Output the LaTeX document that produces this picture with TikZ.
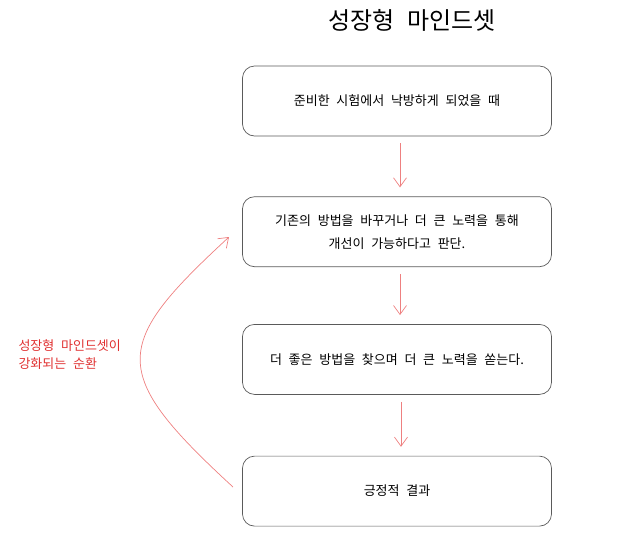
\documentclass[tikz,border=0pt]{standalone}
\usepackage{fontspec}
\setmainfont[WordSpace=2.3]{Noto Sans CJK KR}
\usepackage{tikz}
\usetikzlibrary{positioning, arrows.meta}
\definecolor{edge}{HTML}{5A5A5A}
\definecolor{flow}{HTML}{EE8080}
\definecolor{note}{HTML}{E03131}

\begin{document}
\begin{tikzpicture}[
  x=1pt, y=-1pt,
  every node/.style={font=\fontsize{13}{23}\selectfont},
  stage/.style={
    draw=edge, line width=0.7pt, rounded corners=12pt,
    minimum width=309pt, minimum height=70pt, align=center
  },
  arrow/.style={-{Straight Barb[length=9pt, width=13pt]}, flow, line width=0.7pt,
    shorten <=7pt, shorten >=9pt}
]
  \useasboundingbox (0,0) rectangle (619,542);
  \node[font=\fontsize{24}{26}\selectfont] (title) at (412,20) {성장형 마인드셋};

  \node[stage] (s1) at (397,101) {준비한 시험에서 낙방하게 되었을 때};
  \node[stage, below=60pt of s1] (s2) {기존의 방법을 바꾸거나 더 큰 노력을 통해\\개선이 가능하다고 판단.};
  \node[stage, below=57pt of s2] (s3) {더 좋은 방법을 찾으며 더 큰 노력을 쏟는다.};
  \node[stage, below=61pt of s3] (s4) {긍정적 결과};

  \draw[arrow] ([xshift=3pt]s1.south) -- ([xshift=3pt]s2.north);
  \draw[arrow] ([xshift=3pt]s2.south) -- ([xshift=3pt]s3.north);
  \draw[arrow] ([xshift=4pt]s3.south) -- ([xshift=4pt]s4.north);

  % loop back on the left
  \coordinate (loopA) at (233,487);
  \coordinate (loopB) at (229,237);
  \draw[-{Straight Barb[length=9pt, width=13pt]}, flow, line width=0.7pt]
    (loopA) .. controls (108,372) and (112,345) .. (loopB);
  \node[anchor=west, align=left, text=note, font=\fontsize{13}{18}\selectfont]
    (loop) at (15,355) {성장형 마인드셋이\\강화되는 순환};
\end{tikzpicture}
\end{document}
